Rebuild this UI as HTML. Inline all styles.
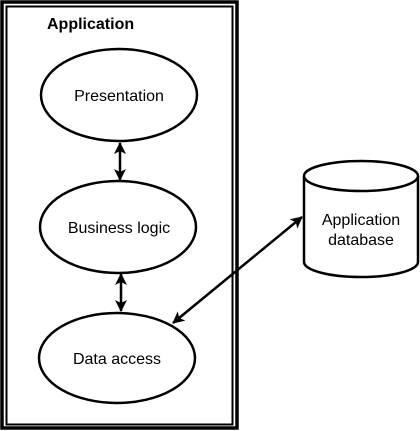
<!DOCTYPE html>
<html><head><style>body{margin:0;background:#fff}svg{display:block}</style></head><body>
<svg width="420" height="431" viewBox="0 0 420 431" xmlns="http://www.w3.org/2000/svg" font-family="Liberation Sans, Arial, sans-serif">
<defs><marker id="a" markerWidth="12" markerHeight="12" refX="11" refY="6" orient="auto-start-reverse" markerUnits="userSpaceOnUse"><path d="M0,0 L12,6 L0,12 L3,6 Z" fill="#000"/></marker></defs>
<rect x="2" y="2" width="235" height="426" fill="none" stroke="#000" stroke-width="3.5"/>
<rect x="6.5" y="6.5" width="226" height="418" fill="none" stroke="#000" stroke-width="2"/>
<text x="47" y="29" font-size="16" font-weight="bold">Application</text>
<g fill="#fff" stroke="#000" stroke-width="2.5">
<ellipse cx="119" cy="95" rx="78" ry="46"/>
<ellipse cx="118" cy="227" rx="78" ry="46"/>
<ellipse cx="117" cy="358" rx="78" ry="45"/>
</g>
<g font-size="16" text-anchor="middle">
<text x="119" y="101">Presentation</text>
<text x="119" y="233">Business logic</text>
<text x="117" y="364">Data access</text>
</g>
<g stroke="#000" stroke-width="2.5" marker-start="url(#a)" marker-end="url(#a)">
<line x1="120" y1="143" x2="120" y2="180"/>
<line x1="121" y1="274" x2="121" y2="311"/>
<line x1="173" y1="323" x2="302" y2="217"/>
</g>
<path d="M304,176 L304,262 A57,15 0 0 0 418,262 L418,176" fill="#fff" stroke="#000" stroke-width="2.5"/>
<ellipse cx="361" cy="176" rx="57" ry="15" fill="#fff" stroke="#000" stroke-width="2.5"/>
<g font-size="16" text-anchor="middle">
<text x="361" y="225">Application</text>
<text x="361" y="245">database</text>
</g>
</svg>
</body></html>
